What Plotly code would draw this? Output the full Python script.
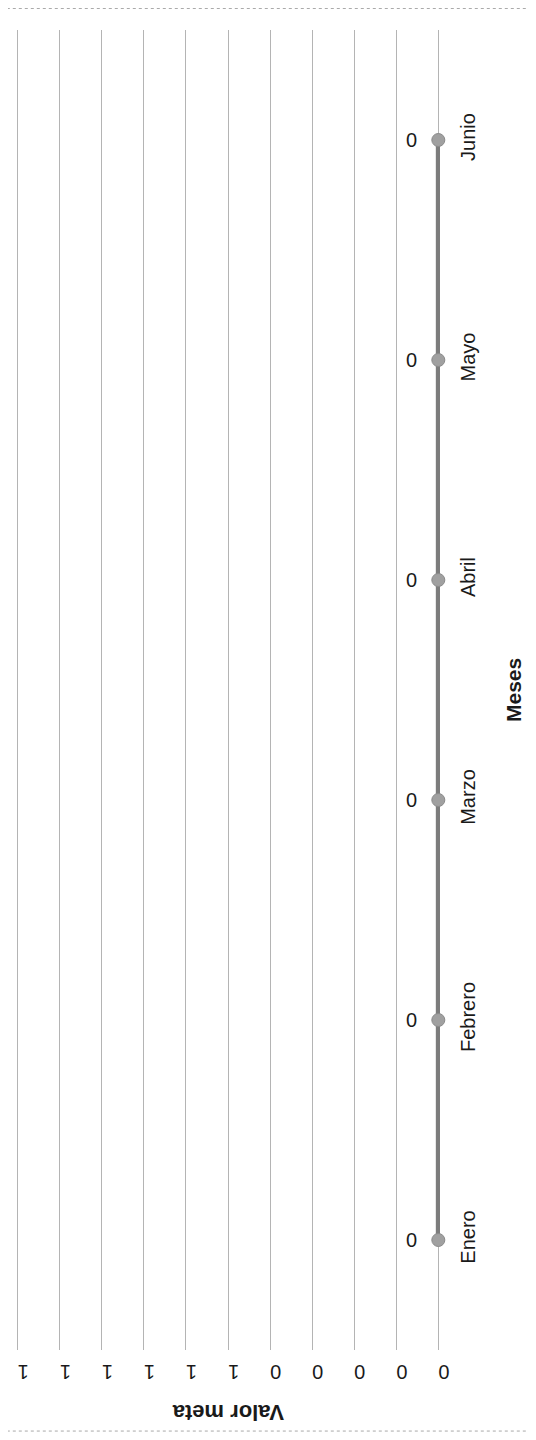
import plotly.graph_objects as go

meses = ["Enero", "Febrero", "Marzo", "Abril", "Mayo", "Junio"]
valor_meta = [0, 0, 0, 0, 0, 0]
etiquetas_datos = ["0", "0", "0", "0", "0", "0"]
tick_vals = [0, 0.1, 0.2, 0.3, 0.4, 0.5, 0.6, 0.7, 0.8, 0.9, 1.0]
tick_text = ["0", "0", "0", "0", "0", "1", "1", "1", "1", "1", "1"]

FONT = "Liberation Sans, Arial, sans-serif"

fig = go.Figure()
fig.add_trace(go.Scatter(
    x=valor_meta, y=meses,
    mode="lines+markers",
    line=dict(color="#7c7c7c", width=5),
    marker=dict(color="#a0a0a0", size=13, line=dict(color="#8a8a8a", width=1)),
    cliponaxis=False,
    showlegend=False,
))

annotations = [
    dict(x=v, y=m, text=t, xref="x", yref="y", showarrow=False,
         xshift=-27, font=dict(size=20, family=FONT, color="#1a1a1a"),
         xanchor="center", yanchor="middle")
    for v, m, t in zip(valor_meta, meses, etiquetas_datos)
]
annotations += [
    dict(text="<b>Valor meta</b>", xref="paper", yref="paper",
         x=0.5, y=0, yshift=-63, showarrow=False, textangle=180,
         font=dict(size=22, family=FONT, color="#1a1a1a"),
         xanchor="center", yanchor="middle"),
    dict(text="<b>Meses</b>", xref="paper", yref="paper",
         x=1, xshift=73, y=0.5, showarrow=False, textangle=-90,
         font=dict(size=21, family=FONT, color="#1a1a1a"),
         xanchor="center", yanchor="middle"),
]

fig.update_layout(
    width=536, height=1440,
    margin=dict(l=8, r=104, t=22, b=98, autoexpand=False),
    paper_bgcolor="white", plot_bgcolor="white",
    font=dict(family=FONT, color="#1a1a1a"),
    xaxis=dict(
        range=[1.004, -0.004],
        tickvals=tick_vals, ticktext=tick_text,
        tickangle=180,
        tickfont=dict(size=20, family=FONT, color="#1a1a1a"),
        showgrid=True, gridcolor="#b4b4b4", gridwidth=1,
        zeroline=False, showline=False, ticks="",
        ticklabelstandoff=14,
        automargin=False,
    ),
    yaxis=dict(
        type="category",
        categoryorder="array", categoryarray=meses,
        range=[-0.5, 5.5],
        side="right",
        tickangle=-90,
        tickfont=dict(size=20, family=FONT, color="#1a1a1a"),
        showgrid=False, zeroline=False, showline=False, ticks="",
        ticklabelstandoff=14,
        automargin=False,
    ),
    annotations=annotations,
    shapes=[
        dict(type="line", xref="paper", yref="paper", x0=-0.05, x1=1.21,
             y0=1.0163, y1=1.0163, line=dict(color="#a8a8a8", width=1, dash="dot")),
        dict(type="line", xref="paper", yref="paper", x0=-0.05, x1=1.21,
             y0=-0.0614, y1=-0.0614, line=dict(color="#a8a8a8", width=1, dash="dot")),
        dict(type="line", xref="paper", yref="paper", x0=1.2123, x1=1.2123,
             y0=-0.0614, y1=1.0163, line=dict(color="#c0c0c0", width=1, dash="dot")),
    ],
)

fig.write_html("out.html")
